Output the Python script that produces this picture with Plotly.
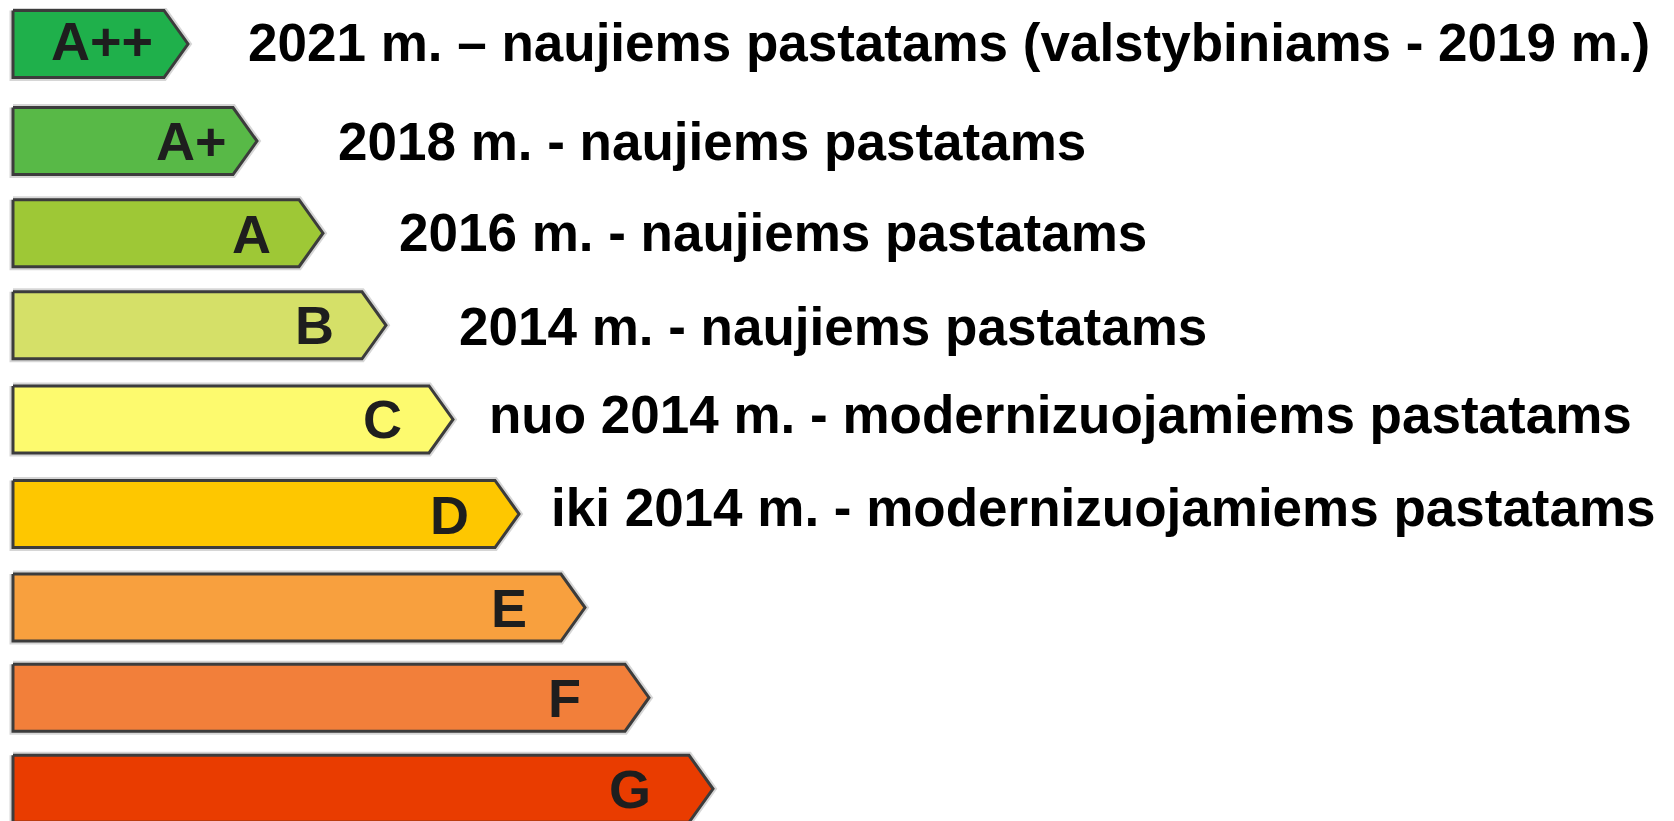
import plotly.graph_objects as go

# ---- data ----
classes = ["A++", "A+", "A", "B", "C", "D", "E", "F", "G"]
arrow_tip = [188, 257, 323, 386, 453, 519, 585, 649, 713]   # arrow length (tip position)
colors = ["#1fb04b", "#58b947", "#9ec836", "#d5e068", "#fdfa6e",
          "#fec700", "#f8a03e", "#f27f3a", "#e93c00"]
notes = [
    "2021 m. – naujiems pastatams (valstybiniams - 2019 m.)",
    "2018 m. - naujiems pastatams",
    "2016 m. - naujiems pastatams",
    "2014 m. - naujiems pastatams",
    "nuo 2014 m. - modernizuojamiems pastatams",
    "iki 2014 m. - modernizuojamiems pastatams",
]

# ---- layout / style constants ----
W, H = 1674, 821
PAGE = 8                       # browser body margin
ROW0, STEP = 44, 93.1          # pixel centre of first row, row spacing
row_dy = [0, 4, 3, 2, 3, 4.5, 5, 2, 0]             # px nudges of each row
X0 = 13                        # arrow left edge
HALF = 33.5 / STEP             # half arrow height in row units
TIP = 24                       # arrow point depth (px)
letter_gap = [33, 28, 50, 50, 49, 48, 56, 66, 60]
letter_dy = [-3, 0, 1, 0, 0, 1, 0, 0, 0]           # px
note_x = [246, 336, 397, 457, 487, 549]
note_dy = [-2, 0, -0.5, 1, -4.5, -6.5]             # px

fig = go.Figure()
for i, (c, tip, col) in enumerate(zip(classes, arrow_tip, colors)):
    yc = i + row_dy[i] / STEP
    xs = [X0, tip - TIP, tip, tip - TIP, X0, X0]
    ys = [yc - HALF, yc - HALF, yc, yc + HALF, yc + HALF, yc - HALF]
    fig.add_trace(go.Scatter(x=xs, y=ys, mode="lines",
                             line=dict(color="rgba(0,0,0,0.16)", width=7),
                             hoverinfo="skip", showlegend=False))
    fig.add_trace(go.Scatter(x=xs, y=ys, mode="lines", fill="toself",
                             fillcolor=col, line=dict(color="#3c3c3c", width=3),
                             hoverinfo="skip", showlegend=False))
    fig.add_annotation(x=tip - letter_gap[i], y=yc + letter_dy[i] / STEP, text=c,
                       showarrow=False, xanchor="right", yanchor="middle",
                       font=dict(family="Liberation Sans, Arial", size=54,
                                 color="#1e1e1e", weight="bold"))

for i, (t, nx) in enumerate(zip(notes, note_x)):
    yc = i + (row_dy[i] + note_dy[i]) / STEP
    fig.add_annotation(x=nx, y=yc, text=t, showarrow=False,
                       xanchor="left", yanchor="middle",
                       font=dict(family="Liberation Sans, Arial", size=53,
                                 color="#000000", weight="bold"))

fig.update_layout(
    width=W, height=H,
    margin=dict(l=0, r=0, t=0, b=0),
    paper_bgcolor="white", plot_bgcolor="white",
    xaxis=dict(range=[PAGE, W + PAGE], visible=False, fixedrange=True),
    yaxis=dict(range=[(H - ROW0 + PAGE) / STEP, (-ROW0 + PAGE) / STEP],
               visible=False, fixedrange=True),
)

fig.write_html("out.html", config={"displayModeBar": False})
